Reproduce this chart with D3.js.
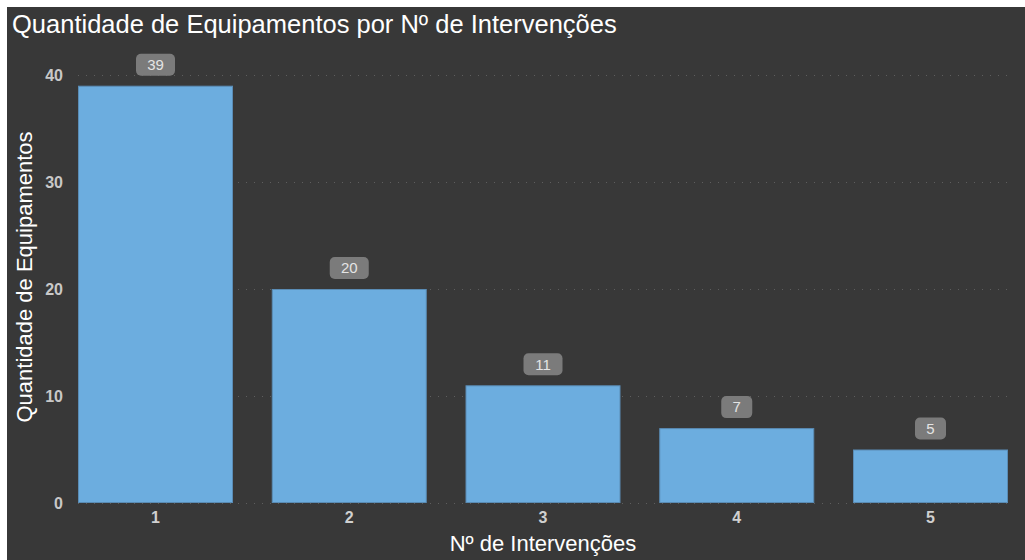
<!DOCTYPE html>
<html>
<head>
<meta charset="utf-8">
<script src="https://cdn.jsdelivr.net/npm/d3@7"></script>
<style>
html,body{margin:0;padding:0;background:#ffffff;}
svg{display:block;}
</style>
</head>
<body>
<svg id="chart" width="1025" height="560"></svg>
<script>
const categories = ["1", "2", "3", "4", "5"];
const values = [39, 20, 11, 7, 5];
const yTicks = [0, 10, 20, 30, 40];
const titleText = "Quantidade de Equipamentos por Nº de Intervenções";
const xTitle = "Nº de Intervenções";
const yTitle = "Quantidade de Equipamentos";

const W = 1025, H = 560;
const svg = d3.select("#chart");
const font = "'Liberation Sans', Arial, sans-serif";

svg.append("rect").attr("x", 7).attr("y", 7).attr("width", W - 7).attr("height", H - 7).attr("fill", "#383838");

const x = d3.scaleBand().domain(categories).range([78, 1008]).paddingInner(0.2).paddingOuter(0);
const y = d3.scaleLinear().domain([0, 40]).range([503, 75]);

// gridlines
svg.append("g").selectAll("line").data(yTicks).join("line")
  .attr("x1", 78).attr("x2", 1010)
  .attr("y1", d => y(d) + 0.5).attr("y2", d => y(d) + 0.5)
  .attr("stroke", "#5e5e5e").attr("stroke-width", 1).attr("stroke-dasharray", "1,7");

// y axis
const yAxis = d3.axisLeft(y).tickValues(yTicks).tickSize(0).tickPadding(0);
const gy = svg.append("g").attr("transform", "translate(63,0)").call(yAxis);
gy.select(".domain").remove();
gy.selectAll("text").attr("fill", "#c8c8c8").attr("font-family", font).attr("font-size", 16).attr("font-weight", "bold");

// x axis
const xAxis = d3.axisBottom(x).tickSize(0).tickPadding(0);
const gx = svg.append("g").attr("transform", "translate(0,512)").call(xAxis);
gx.select(".domain").remove();
gx.selectAll("text").attr("fill", "#d0d0d0").attr("font-family", font).attr("font-size", 16).attr("font-weight", "bold");

// bars
svg.append("g").selectAll("rect").data(values).join("rect")
  .attr("x", (d, i) => x(categories[i]) + 0.5)
  .attr("y", d => y(d) + 0.5)
  .attr("width", x.bandwidth() - 1)
  .attr("height", d => y(0) - y(d) - 1)
  .attr("fill", "#6caddf")
  .attr("stroke", "#5a8cb5").attr("stroke-width", 1);

// labels
const lg = svg.append("g").selectAll("g").data(values).join("g")
  .attr("transform", (d, i) => `translate(${x(categories[i]) + x.bandwidth() / 2},${y(d) - 21})`);
lg.append("rect")
  .attr("x", d => -(String(d).length * 8 + 23) / 2)
  .attr("width", d => String(d).length * 8 + 23)
  .attr("y", -11).attr("height", 22).attr("rx", 5)
  .attr("fill", "#7b7b7b");
lg.append("text").text(d => d)
  .attr("text-anchor", "middle").attr("dy", "0.35em").attr("y", 0)
  .attr("fill", "#e4e4e4").attr("font-family", font).attr("font-size", 15);

// titles
svg.append("text").attr("x", 12).attr("y", 33).text(titleText)
  .attr("fill", "#ffffff").attr("font-family", font).attr("font-size", 25.5);

svg.append("text").attr("x", 543).attr("y", 551).attr("text-anchor", "middle").text(xTitle)
  .attr("fill", "#ffffff").attr("font-family", font).attr("font-size", 22);

svg.append("text").attr("transform", "translate(32,277) rotate(-90)").attr("text-anchor", "middle").text(yTitle)
  .attr("fill", "#ffffff").attr("font-family", font).attr("font-size", 22);
</script>
</body>
</html>
